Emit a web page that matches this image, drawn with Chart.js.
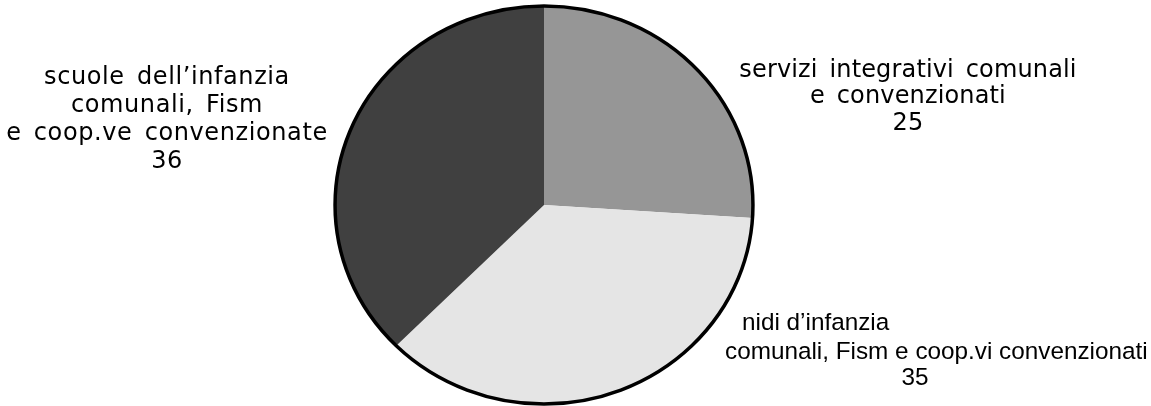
<!DOCTYPE html>
<html>
<head>
<meta charset="utf-8">
<script src="https://cdn.jsdelivr.net/npm/chart.js@4.4.1/dist/chart.umd.min.js"></script>
<style>
	html, body { margin: 0; padding: 0; background: #ffffff; }
	#wrap { width: 1151px; height: 406px; position: relative; }
</style>
</head>
<body>
<div id="wrap"><canvas id="myChart" width="1151" height="406"></canvas></div>
<script>
// data
const categories = [
	["servizi integrativi comunali", "e convenzionati"],
	["nidi d’infanzia", "comunali, Fism e coop.vi convenzionati"],
	["scuole dell’infanzia", "comunali, Fism", "e coop.ve convenzionate"],
];
const values = [25, 35, 36];
const sliceColors = ["#969696", "#e5e5e5", "#404040"];

// where each label block sits (one entry per line, last one is the value)
const labelLayout = [
	{
		font: "24px 'DejaVu Sans'", spacing: "0.15px", words: "4px",
		lines: [[908, 71, "center"], [908, 97, "center"], [908, 124, "center"]],
	},
	{
		font: "24.3px 'Liberation Sans'", spacing: "0px", words: "0px",
		lines: [[742, 323, "left"], [725, 352, "left"], [915, 378, "center"]],
	},
	{
		font: "24px 'DejaVu Sans'", spacing: "0.6px", words: "4px",
		lines: [[167, 78, "center"], [167, 106, "center"], [167, 134, "center"], [167, 162, "center"]],
	},
];

const stretchX = 1.05; // the original pie is a little wider than tall

const ellipsePie = {
	id: "ellipsePie",
	beforeDatasetsDraw(chart) {
		const arc = chart.getDatasetMeta(0).data[0];
		const ctx = chart.ctx;
		ctx.save();
		ctx.translate(arc.x, arc.y);
		ctx.scale(stretchX, 1);
		ctx.translate(-arc.x, -arc.y);
	},
	afterDatasetsDraw(chart) {
		const arc = chart.getDatasetMeta(0).data[0];
		const ctx = chart.ctx;
		ctx.restore();
		// outer rim only, no lines between the slices
		ctx.save();
		ctx.beginPath();
		ctx.ellipse(arc.x, arc.y, arc.outerRadius * stretchX, arc.outerRadius, 0, 0, Math.PI * 2);
		ctx.lineWidth = 3.5;
		ctx.strokeStyle = "#000000";
		ctx.stroke();
		ctx.restore();
	},
	afterDraw(chart) {
		const ctx = chart.ctx;
		ctx.save();
		ctx.fillStyle = "#000000";
		ctx.textBaseline = "middle";
		categories.forEach((cat, i) => {
			const lay = labelLayout[i];
			const texts = cat.concat([String(values[i])]);
			ctx.font = lay.font;
			ctx.letterSpacing = lay.spacing;
			ctx.wordSpacing = lay.words;
			texts.forEach((t, j) => {
				const p = lay.lines[j];
				ctx.textAlign = p[2];
				ctx.fillText(t, p[0], p[1]);
			});
		});
		ctx.restore();
	},
};

var ctx = document.getElementById("myChart");
var myChart = new Chart(ctx, {
	type: "pie",
	data: {
		labels: categories.map((c) => c.join(" ")),
		datasets: [
			{
				data: values,
				backgroundColor: sliceColors,
				borderWidth: 0,
			},
		],
	},
	plugins: [ellipsePie],
	options: {
		responsive: false,
		animation: false,
		layout: {
			padding: { left: 300, right: 363, top: 6, bottom: 2 },
		},
		plugins: {
			legend: { display: false },
			tooltip: { enabled: false },
		},
	},
});
</script>
</body>
</html>
